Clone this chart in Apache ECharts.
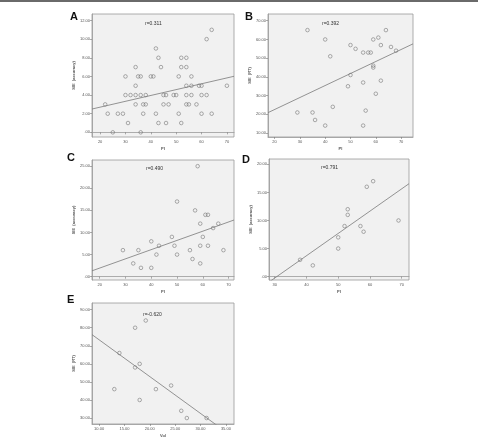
<!DOCTYPE html>
<html>
<head>
<meta charset="utf-8">
<script src="https://cdn.jsdelivr.net/npm/echarts@6/dist/echarts.min.js"></script>
<style>
  html, body { margin: 0; padding: 0; background: #fff; }
  #el { width: 478px; height: 439px; }
</style>
</head>
<body>
<div id="el"></div>
<script>
// panel A: PI vs SIE (accuracy)
const aPI  = [64, 62, 42, 43, 52, 54, 34, 44, 52, 54, 30, 35, 36, 40, 41, 51, 56,
              34, 54, 56, 59, 60, 70, 30, 32, 34, 36, 38, 45, 46, 49, 50, 54, 56, 60, 62,
              22, 34, 37, 38, 45, 47, 54, 55, 58, 23, 27, 29, 37, 42, 51, 60, 64,
              31, 43, 46, 52, 25, 36];
const aSIE = [11, 10, 9, 8, 8, 8, 7, 7, 7, 7, 6, 6, 6, 6, 6, 6, 6,
              5, 5, 5, 5, 5, 5, 4, 4, 4, 4, 4, 4, 4, 4, 4, 4, 4, 4, 4,
              3, 3, 3, 3, 3, 3, 3, 3, 3, 2, 2, 2, 2, 2, 2, 2, 2,
              1, 1, 1, 1, 0, 0];
// panel B: PI vs SIE (RT)
const bPI  = [33, 40, 42, 50, 52, 55, 57, 58, 59, 61, 64, 62, 66, 68, 59, 59, 50, 55, 62, 49, 60, 29, 35, 36, 43, 56, 40, 55];
const bSIE = [65, 60, 51, 57, 55, 53, 53, 53, 60, 61, 65, 57, 56, 54, 46, 45, 41, 37, 38, 35, 31, 21, 21, 17, 24, 22, 14, 14];
// panel C: PI vs SIE (accuracy)
const cPI  = [58, 50, 57, 61, 62, 59, 66, 64, 48, 60, 40, 43, 49, 59, 62, 29, 35, 55, 68, 42, 50, 56, 33, 59, 36, 40];
const cSIE = [25, 17, 15, 14, 14, 12, 12, 11, 9, 9, 8, 7, 7, 7, 7, 6, 6, 6, 6, 5, 5, 4, 3, 3, 2, 2];
// panel D: PI vs SIE (accuracy)
const dPI  = [61, 59, 53, 53, 69, 52, 57, 58, 50, 50, 38, 42];
const dSIE = [17, 16, 12, 11, 10, 9, 9, 8, 7, 5, 3, 2];
// panel E: Vol vs SIE (RT)
const eVol = [19.2, 17.1, 14, 18, 17.1, 13, 21.2, 24.2, 18, 26.2, 27.3, 31.2];
const eSIE = [84, 80, 66, 60, 58, 46, 46, 48, 40, 34, 30, 30];

// tick labels
const piTicks  = [20, 30, 40, 50, 60, 70];
const dPiTicks = [30, 40, 50, 60, 70];
const volTicks = [10, 15, 20, 25, 30, 35];
const aTicks = [0, 2, 4, 6, 8, 10, 12];
const bTicks = [10, 20, 30, 40, 50, 60, 70];
const cTicks = [0, 5, 10, 15, 20, 25];
const dTicks = [0, 5, 10, 15, 20];
const eTicks = [30, 40, 50, 60, 70, 80, 90];

const panelNames = ['A', 'B', 'C', 'D', 'E'];
const rValues = ['0.311', '0.392', '0.490', '0.791', '-0.620'];

const panels = [
  {x: aPI, y: aSIE, xt: piTicks, yt: aTicks, xr: [16.8, 72.8], yr: [-0.5, 12.7], xn: 'PI', yn: 'SIE  (accuracy)', dec: false,
   grid: {left: 92, top: 14, width: 142, height: 123}, lab: [70, 11], r: [145, 21]},
  {x: bPI, y: bSIE, xt: piTicks, yt: bTicks, xr: [17.4, 74.7], yr: [7.9, 73.6], xn: 'PI', yn: 'SIE  (RT)', dec: false,
   grid: {left: 268, top: 14, width: 145, height: 123}, lab: [245, 11], r: [322, 21]},
  {x: cPI, y: cSIE, xt: piTicks, yt: cTicks, xr: [17, 72.1], yr: [-0.75, 26.4], xn: 'PI', yn: 'SIE  (accuracy)', dec: false,
   grid: {left: 92, top: 160, width: 142, height: 120}, lab: [67, 152], r: [146, 166]},
  {x: dPI, y: dSIE, xt: dPiTicks, yt: dTicks, xr: [28.2, 72.3], yr: [-0.6, 20.95], xn: 'PI', yn: 'SIE  (accuracy)', dec: false,
   grid: {left: 269, top: 159, width: 140, height: 121}, lab: [242, 154], r: [321, 165]},
  {x: eVol, y: eSIE, xt: volTicks, yt: eTicks, xr: [8.6, 36.6], yr: [26.7, 93.7], xn: 'Vol', yn: 'SIE  (RT)', dec: true,
   grid: {left: 92, top: 303, width: 142, height: 121}, lab: [67, 294], r: [143, 312]}
];

// least squares line through the points
function fit(xs, ys) {
  const n = xs.length;
  const mx = xs.reduce((a, b) => a + b, 0) / n;
  const my = ys.reduce((a, b) => a + b, 0) / n;
  let sxy = 0, sxx = 0;
  for (let i = 0; i < n; i++) {
    sxy += (xs[i] - mx) * (ys[i] - my);
    sxx += (xs[i] - mx) * (xs[i] - mx);
  }
  const k = sxy / sxx;
  return [k, my - k * mx];
}

const fmt2 = v => v === 0 ? '.00' : v.toFixed(2);
const tiny = {fontSize: 4, color: '#555', fontFamily: 'Arial, Liberation Sans, sans-serif'};

const grids = [], xAxes = [], yAxes = [], series = [], titles = [];

panels.forEach((p, i) => {
  grids.push(Object.assign({show: true, backgroundColor: '#f1f1f1', borderColor: '#9a9a9a', borderWidth: 0.8}, p.grid));
  xAxes.push({
    type: 'value', gridIndex: i, min: p.xr[0], max: p.xr[1],
    name: p.xn, nameLocation: 'middle', nameGap: 10,
    nameTextStyle: Object.assign({}, tiny, {fontWeight: 'bold'}),
    axisLine: {show: true, lineStyle: {color: '#9a9a9a', width: 0.8}},
    axisTick: {show: true, length: 2, customValues: p.xt, lineStyle: {color: '#777', width: 0.6}},
    axisLabel: Object.assign({customValues: p.xt, margin: 3,
      formatter: v => p.dec ? v.toFixed(2) : String(v)}, tiny),
    splitLine: {show: false}
  });
  yAxes.push({
    type: 'value', gridIndex: i, min: p.yr[0], max: p.yr[1],
    name: p.yn, nameLocation: 'middle', nameGap: 13,
    nameTextStyle: Object.assign({}, tiny, {fontWeight: 'bold'}),
    axisLine: {show: true, lineStyle: {color: '#9a9a9a', width: 0.8}},
    axisTick: {show: true, length: 2, customValues: p.yt, lineStyle: {color: '#777', width: 0.6}},
    axisLabel: Object.assign({customValues: p.yt, margin: 2, formatter: fmt2}, tiny),
    splitLine: {show: false}
  });
  series.push({
    type: 'scatter', xAxisIndex: i, yAxisIndex: i,
    data: p.x.map((v, j) => [v, p.y[j]]),
    symbol: 'circle', symbolSize: 3.6,
    itemStyle: {color: 'rgba(0,0,0,0)', borderColor: '#6d6d6d', borderWidth: 0.7},
    silent: true
  });
  const [k, b] = fit(p.x, p.y);
  series.push({
    type: 'line', xAxisIndex: i, yAxisIndex: i,
    data: [[p.xr[0], b + k * p.xr[0]], [p.xr[1], b + k * p.xr[1]]],
    symbol: 'none', clip: true, silent: true,
    lineStyle: {color: '#7a7a7a', width: 0.8}
  });
  titles.push({
    text: panelNames[i], left: p.lab[0], top: p.lab[1], padding: 0,
    textStyle: {fontSize: 11, fontWeight: 'bold', color: '#111', fontFamily: 'Arial, Liberation Sans, sans-serif'}
  });
  titles.push({
    text: '{i|r}=' + rValues[i], left: p.r[0], top: p.r[1], padding: 0,
    textStyle: {fontSize: 5, fontWeight: 'normal', color: '#333', fontFamily: 'Arial, Liberation Sans, sans-serif',
      rich: {i: {fontSize: 5, fontStyle: 'italic', color: '#333'}}}
  });
});

const myChart = echarts.init(document.getElementById('el'), null, {renderer: 'canvas'});
myChart.setOption({
  animation: false,
  backgroundColor: '#fff',
  title: titles,
  grid: grids,
  xAxis: xAxes,
  yAxis: yAxes,
  series: series,
  graphic: [{type: 'rect', shape: {x: 0, y: 0, width: 478, height: 2}, style: {fill: '#6a6a6a'}}]
});
</script>
</body>
</html>
